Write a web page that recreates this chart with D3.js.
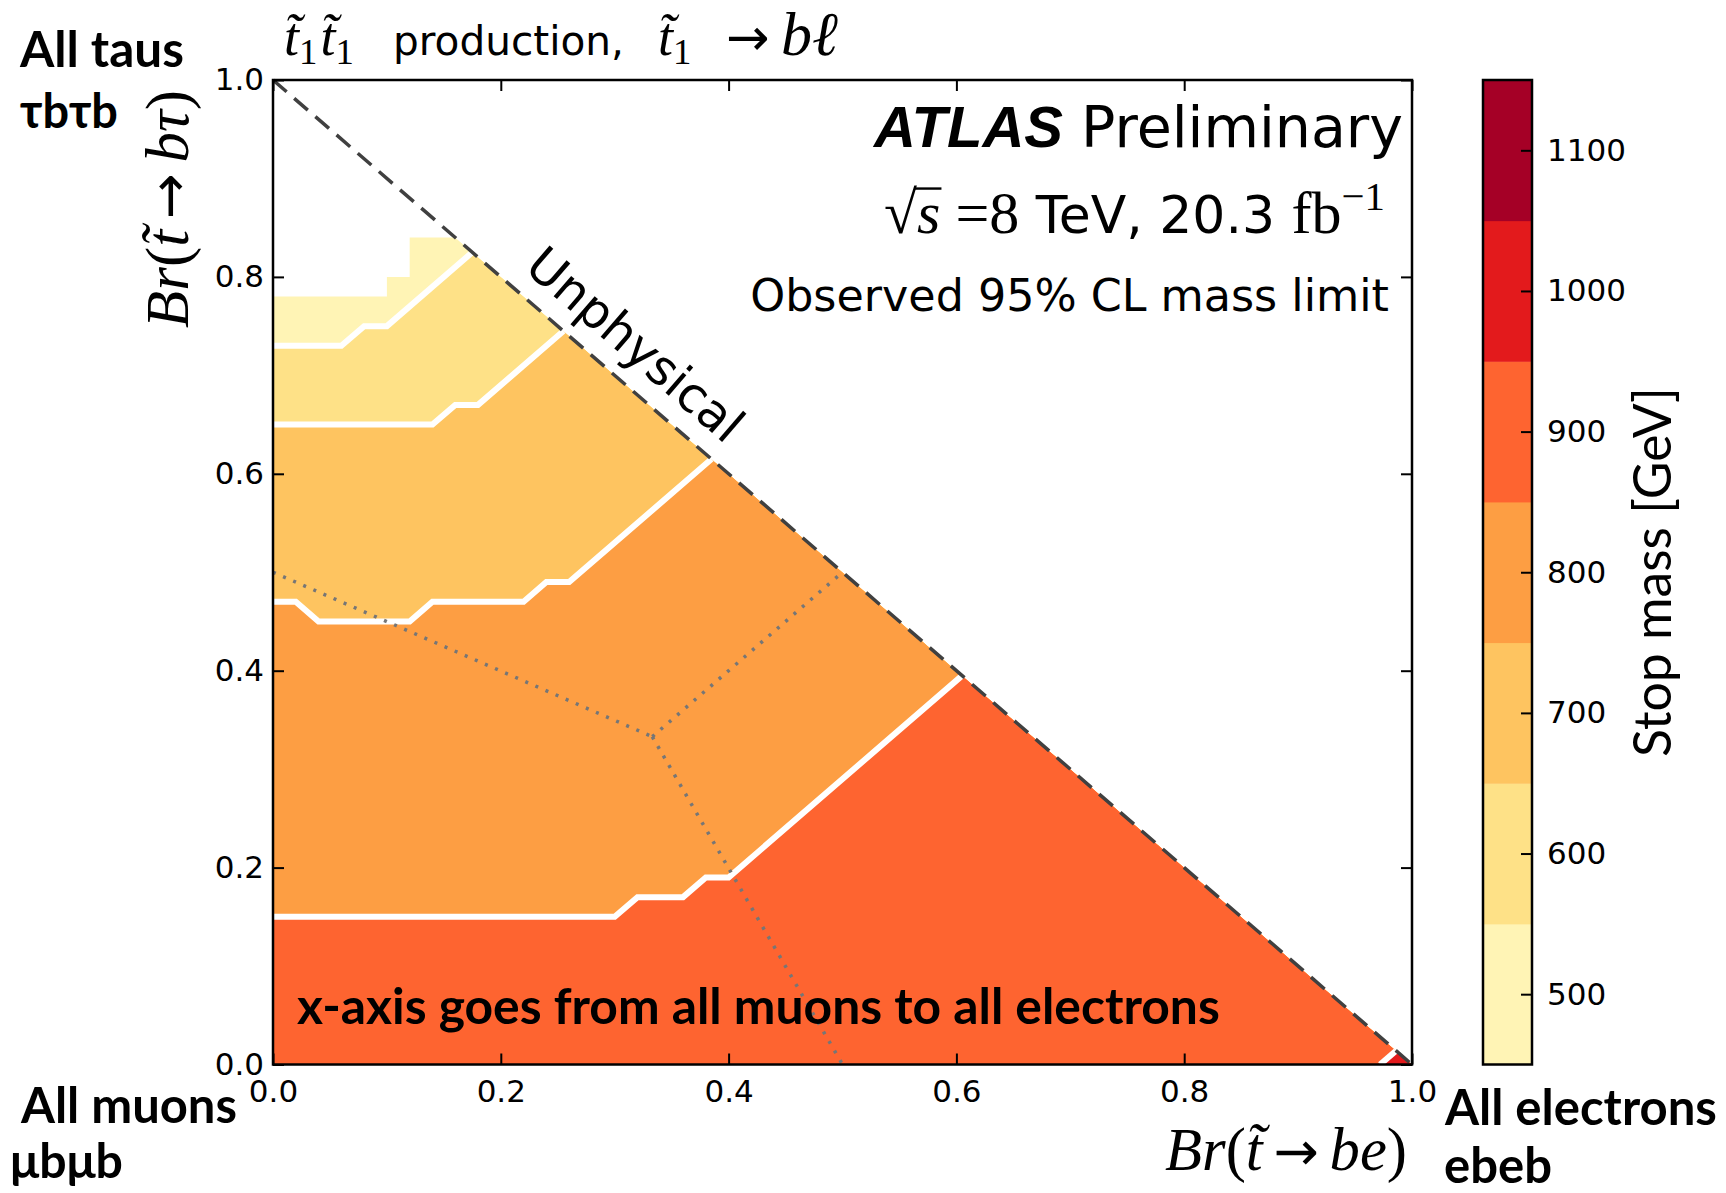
<!DOCTYPE html>
<html>
<head>
<meta charset="utf-8">
<script src="https://cdn.jsdelivr.net/npm/d3@7"></script>
<style>
  html, body { margin: 0; padding: 0; background: #fff; }
  svg { display: block; }
</style>
</head>
<body>
<svg id="chart" width="1726" height="1193"></svg>
<script>
// ---- Axis ticks -----------------------------------------------------------
const xTicks = [0, 0.2, 0.4, 0.6, 0.8, 1.0];
const yTicks = [0, 0.2, 0.4, 0.6, 0.8, 1.0];

// ---- Stop-mass colour bands (GeV) -------------------------------------------
const massEdges = [450, 550, 650, 750, 850, 950, 1050, 1150];
const massTicks = [500, 600, 700, 800, 900, 1000, 1100];
const bandColors = ["#fff4b5", "#fee187", "#fec460", "#fd9e43", "#fe6430", "#e31a1c", "#a50026"];

// ---- Observed limit contours, points are (Br(t->be), Br(t->btau)) ----------
// Edge of the scanned region: above it no limit is set
const scanEdge   = [[0, 0.78], [0.10, 0.78], [0.10, 0.80], [0.12, 0.80], [0.12, 0.84], [0.16, 0.84]];
const contour550 = [[0, 0.73], [0.06, 0.73], [0.08, 0.75], [0.10, 0.75], [0.175, 0.825]];
const contour650 = [[0, 0.65], [0.14, 0.65], [0.16, 0.67], [0.18, 0.67], [0.255, 0.745]];
const contour750 = [[0, 0.47], [0.02, 0.47], [0.04, 0.45], [0.12, 0.45], [0.14, 0.47], [0.22, 0.47],
                    [0.24, 0.49], [0.26, 0.49], [0.385, 0.615]];
const contour850 = [[0, 0.15], [0.30, 0.15], [0.32, 0.17], [0.36, 0.17], [0.38, 0.19], [0.40, 0.19],
                    [0.605, 0.395]];
const contour950 = [[0.972, 0], [0.986, 0.014]];

// Mass level reached below/right of each contour
const fillLevels = [
  { edge: scanEdge,   mass: 500 },
  { edge: contour550, mass: 600 },
  { edge: contour650, mass: 700 },
  { edge: contour750, mass: 800 },
  { edge: contour850, mass: 900 },
  { edge: contour950, mass: 1000 }
];
const whiteContours = [contour550, contour650, contour750, contour850, contour950];

// Dotted lines from the edge midpoints to the centre of the triangle
const dividers = [
  [[0, 0.5], [0.333, 0.333]],
  [[0.333, 0.333], [0.5, 0.5]],
  [[0.333, 0.333], [0.5, 0]]
];

// ---- Layout -----------------------------------------------------------------
const plot = { left: 273, right: 1412, top: 80, bottom: 1064.5 };
const cbar = { left: 1483, right: 1532 };

const x = d3.scaleLinear().domain([0, 1]).range([plot.left, plot.right]);
const y = d3.scaleLinear().domain([0, 1]).range([plot.bottom, plot.top]);
const cy = d3.scaleLinear().domain([massEdges[0], massEdges[massEdges.length - 1]]).range([plot.bottom, plot.top]);
const color = d3.scaleThreshold().domain(massEdges.slice(1, -1)).range(bandColors);
const line = d3.line().x(d => x(d[0])).y(d => y(d[1]));

const svg = d3.select("#chart");
const defs = svg.append("defs");
defs.append("clipPath").attr("id", "physical")
  .append("path").attr("d", line([[0, 0], [0, 1], [1, 0]]) + "Z");
defs.append("clipPath").attr("id", "frame")
  .append("rect").attr("x", plot.left).attr("y", plot.top)
  .attr("width", plot.right - plot.left).attr("height", plot.bottom - plot.top);

// ---- Filled mass-limit regions ----------------------------------------------
const fills = svg.append("g").attr("clip-path", "url(#physical)");
fillLevels.forEach(lv => {
  const closing = lv.edge[0][0] === 0 ? [[1, 0], [0, 0]] : [[1, 0]];
  fills.append("path")
    .attr("d", line(lv.edge.concat(closing)) + "Z")
    .attr("fill", color(lv.mass));
});

// White contour lines
const lines = svg.append("g").attr("clip-path", "url(#frame)");
whiteContours.forEach(c => {
  lines.append("path").attr("d", line(c))
    .attr("fill", "none").attr("stroke", "#fff").attr("stroke-width", 6)
    .attr("stroke-linejoin", "miter");
});

// Dotted region dividers
dividers.forEach(seg => {
  svg.append("path").attr("d", line(seg))
    .attr("fill", "none").attr("stroke", "#767676").attr("stroke-width", 3.5)
    .attr("stroke-dasharray", "3,8");
});

// Unphysical boundary Br(be)+Br(btau)=1
svg.append("path").attr("d", line([[0, 1], [1, 0]]))
  .attr("fill", "none").attr("stroke", "#404040").attr("stroke-width", 3.5)
  .attr("stroke-dasharray", "18,10");

// ---- Axes -------------------------------------------------------------------
const tickFmt = d3.format(".1f");
function styleAxis(g) {
  g.select(".domain").remove();
  g.selectAll(".tick line").attr("stroke", "#000").attr("stroke-width", 2);
  g.selectAll(".tick text").attr("fill", "#000")
    .attr("font-family", "DejaVu Sans").attr("font-size", 31);
}
svg.append("g").attr("transform", `translate(0,${plot.bottom})`)
  .call(d3.axisBottom(x).tickValues(xTicks).tickFormat(tickFmt)
    .tickSizeInner(-11).tickSizeOuter(0).tickPadding(15))
  .call(styleAxis);
svg.append("g").attr("transform", `translate(0,${plot.top})`)
  .call(d3.axisTop(x).tickValues(xTicks).tickFormat("")
    .tickSizeInner(-11).tickSizeOuter(0))
  .call(styleAxis);
svg.append("g").attr("transform", `translate(${plot.left},0)`)
  .call(d3.axisLeft(y).tickValues(yTicks).tickFormat(tickFmt)
    .tickSizeInner(-11).tickSizeOuter(0).tickPadding(9))
  .call(styleAxis);
svg.append("g").attr("transform", `translate(${plot.right},0)`)
  .call(d3.axisRight(y).tickValues(yTicks).tickFormat("")
    .tickSizeInner(-11).tickSizeOuter(0))
  .call(styleAxis);

svg.append("rect")
  .attr("x", plot.left).attr("y", plot.top)
  .attr("width", plot.right - plot.left).attr("height", plot.bottom - plot.top)
  .attr("fill", "none").attr("stroke", "#000").attr("stroke-width", 2.5);

// ---- Colour bar -------------------------------------------------------------
const bands = d3.pairs(massEdges);
svg.append("g").selectAll("rect").data(bands).join("rect")
  .attr("x", cbar.left).attr("width", cbar.right - cbar.left)
  .attr("y", d => cy(d[1])).attr("height", d => cy(d[0]) - cy(d[1]) + 0.5)
  .attr("fill", d => color((d[0] + d[1]) / 2));
svg.append("g").attr("transform", `translate(${cbar.right},0)`)
  .call(d3.axisRight(cy).tickValues(massTicks).tickFormat(d3.format("d"))
    .tickSizeInner(-11).tickSizeOuter(0).tickPadding(15))
  .call(styleAxis);
svg.append("rect")
  .attr("x", cbar.left).attr("y", plot.top)
  .attr("width", cbar.right - cbar.left).attr("height", plot.bottom - plot.top)
  .attr("fill", "none").attr("stroke", "#000").attr("stroke-width", 2.5);

// ---- Text helpers -------------------------------------------------------------
const SERIF = "'Liberation Serif', 'DejaVu Serif', serif";
const SANS = "'DejaVu Sans', sans-serif";
const HUMAN = "Lato, 'Open Sans', sans-serif";

// Scale a text (and its tspans) so that its rendered length equals target
function fitWidth(sel, target) {
  const node = sel.node();
  const k = target / node.getComputedTextLength();
  const scaleSize = s => s.attr("font-size", parseFloat(s.attr("font-size")) * k);
  if (sel.attr("font-size")) scaleSize(sel);
  sel.selectAll("tspan").each(function () {
    const t = d3.select(this);
    if (t.attr("font-size")) scaleSize(t);
    if (t.attr("dy")) t.attr("dy", parseFloat(t.attr("dy")) * k);
  });
  return sel;
}

// Append runs of mixed text: serif italics, upright symbols, sub/superscripts
function mathPieces(textSel, pieces, size) {
  pieces.forEach(p => {
    const fam = p.arrow ? SANS : (p.sans ? SANS : SERIF);
    const t = textSel.append("tspan").text(p.t)
      .attr("font-family", fam)
      .attr("font-style", p.it ? "italic" : "normal")
      .attr("font-size", p.size || (p.sub ? size * 0.68 : size));
    if (p.dy) t.attr("dy", p.dy);
    if (p.dx) t.attr("dx", p.dx);
    if (p.x) t.attr("x", p.x);
  });
}

// ---- Title ---------------------------------------------------------------------
const titleBase = 55;
const t1 = svg.append("text").attr("x", 284).attr("y", titleBase);
mathPieces(t1, [
  { t: "t\u0303", it: true }, { t: "1", sub: true, dy: 9 },
  { t: "t\u0303", it: true, dy: -9, dx: 3 }, { t: "1", sub: true, dy: 9 }
], 54);
svg.append("text").attr("x", 393).attr("y", titleBase)
  .attr("font-family", SANS).attr("font-size", 43).text("production,")
  .call(s => fitWidth(s, 231));
const t2 = svg.append("text").attr("x", 658).attr("y", titleBase);
mathPieces(t2, [
  { t: "t\u0303", it: true }, { t: "1", sub: true, dy: 9 },
  { t: "\u2192", arrow: true, dy: -9, x: 726, size: 52 },
  { t: "b\u2113", it: true, x: 781, size: 62 }
], 54);

// ---- Experiment labels -----------------------------------------------------------
const atlas = svg.append("text").attr("x", 1403).attr("y", 147).attr("text-anchor", "end");
atlas.append("tspan").text("ATLAS")
  .attr("font-family", "'Liberation Sans', Arial, sans-serif")
  .attr("font-weight", "bold").attr("font-style", "italic").attr("font-size", 58);
atlas.append("tspan").text(" Preliminary")
  .attr("font-family", SANS).attr("font-size", 57);

const energyBase = 233;
const energy = svg.append("text").attr("x", 1385).attr("y", energyBase).attr("text-anchor", "end");
mathPieces(energy, [
  { t: "\u221A" }, { t: "s", it: true },
  { t: " =8" }, { t: " TeV, 20.3 ", sans: true, size: 45 },
  { t: "fb" }, { t: "\u22121", sub: true, dy: -20 }
], 52);
energy.call(s => fitWidth(s, 501));
// overbar of the square root, from the radical sign across the "s"
{
  const node = energy.node();
  const radEnd = node.getEndPositionOfChar(0).x;
  const sEnd = node.getEndPositionOfChar(1).x;
  const fs = parseFloat(energy.select("tspan").attr("font-size"));
  const yTop = energyBase - fs * 0.74;
  svg.append("line")
    .attr("x1", radEnd - 3).attr("x2", sEnd + 1)
    .attr("y1", yTop).attr("y2", yTop)
    .attr("stroke", "#000").attr("stroke-width", 2.4);
}

svg.append("text").attr("x", 1389).attr("y", 311).attr("text-anchor", "end")
  .attr("font-family", SANS).attr("font-size", 44.4)
  .text("Observed 95% CL mass limit");

// "Unphysical" along the kinematic boundary
const angle = Math.atan2(y(0) - y(1), x(1) - x(0)) * 180 / Math.PI;
svg.append("text")
  .attr("transform", `translate(${x(0.297)},${y(0.703)}) rotate(${angle})`)
  .attr("y", -20).attr("text-anchor", "middle")
  .attr("font-family", SANS).attr("font-size", 49).text("Unphysical");

// ---- Axis titles -------------------------------------------------------------------
function brLabel(sel, decay) {
  mathPieces(sel, [
    { t: "Br", it: true }, { t: "(" }, { t: "t\u0303", it: true },
    { t: "\u2009\u2192\u2009", arrow: true, size: 50 }, { t: decay, it: true }, { t: ")" }
  ], 56);
}
const xl = svg.append("text").attr("x", 1407).attr("y", 1170).attr("text-anchor", "end");
brLabel(xl, "be");
xl.call(s => fitWidth(s, 242));
const yl = svg.append("text").attr("transform", "translate(188,90) rotate(-90)").attr("text-anchor", "end");
brLabel(yl, "b\u03C4");
yl.call(s => fitWidth(s, 238));

svg.append("text").attr("transform", "translate(1671,572) rotate(-90)")
  .attr("text-anchor", "middle").attr("font-family", HUMAN).attr("font-size", 50)
  .text("Stop mass [GeV]").call(s => fitWidth(s, 370));

// ---- Corner annotations --------------------------------------------------------------
const corner = [
  { t: "All taus",      x: 20,   y: 67,   w: 164 },
  { t: "\u03C4b\u03C4b", x: 20,   y: 128,  w: 98 },
  { t: "All muons",     x: 21,   y: 1123, w: 216 },
  { t: "\u03BCb\u03BCb", x: 10,   y: 1178, w: 113 },
  { t: "All electrons", x: 1445, y: 1125, w: 272 },
  { t: "ebeb",          x: 1444, y: 1183, w: 108 },
  { t: "x-axis goes from all muons to all electrons", x: 297, y: 1024, w: 923 }
];
corner.forEach(c => {
  svg.append("text").attr("x", c.x).attr("y", c.y)
    .attr("font-family", HUMAN).attr("font-weight", "bold").attr("font-size", 46)
    .attr("fill", "#000").text(c.t).call(s => fitWidth(s, c.w));
});
</script>
</body>
</html>
